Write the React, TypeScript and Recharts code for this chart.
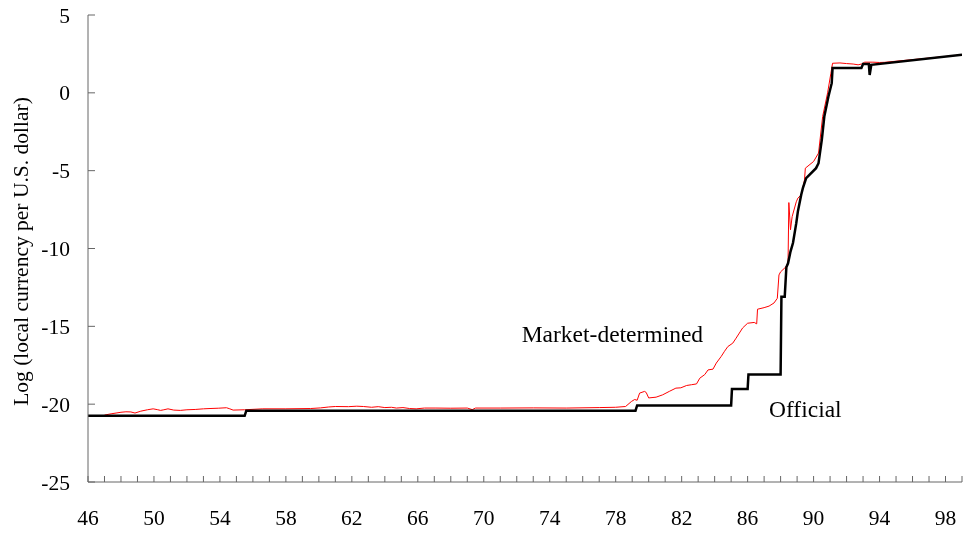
import React from 'react';
import { LineChart, Line, XAxis, YAxis, ReferenceDot } from 'recharts';

// Official exchange rate (log local currency per U.S. dollar)
const officialYears = [
  46.0, 55.5, 55.6, 79.2, 79.3, 85.0, 85.05, 86.0, 86.05, 88.0, 88.05, 88.25,
  88.35, 88.45, 88.6, 88.75, 88.95, 89.05, 89.25, 89.35, 89.55, 90.15, 90.3,
  90.5, 90.65, 90.9, 91.1, 91.15, 92.9, 93.0, 93.35, 93.4, 93.5, 99.0,
];
const officialValues = [
  -20.75, -20.75, -20.42, -20.42, -20.08, -20.08, -19.03, -19.03, -18.1, -18.1,
  -13.1, -13.1, -11.2, -10.95, -10.2, -9.65, -8.37, -7.6, -6.55, -6.12, -5.48,
  -4.84, -4.52, -3.0, -1.52, -0.24, 0.62, 1.59, 1.59, 1.85, 1.85, 1.15, 1.8, 2.44,
];

// Market-determined exchange rate
const marketYears = [
  47.0, 47.4, 47.7, 48.0, 48.3, 48.6, 48.85, 49.2, 49.6, 49.95, 50.2, 50.4, 50.6,
  50.85, 51.2, 51.6, 52.0, 52.5, 53.0, 53.4, 53.9, 54.4, 54.6, 54.8, 55.5, 56.6,
  58.0, 59.5, 60.1, 60.6, 61.0, 61.8, 62.3, 62.7, 63.2, 63.6, 64.0, 64.4, 64.7,
  65.1, 65.5, 65.9, 66.4, 67.1, 68.0, 69.0, 69.3, 69.5, 71.0, 73.0, 75.0, 77.0,
  78.0, 78.6, 78.95, 79.15, 79.3, 79.45, 79.75, 79.85, 80.0, 80.45, 80.85, 81.25,
  81.65, 81.95, 82.3, 82.6, 82.9, 83.1, 83.4, 83.6, 83.9, 84.1, 84.4, 84.6, 84.8,
  85.1, 85.3, 85.5, 85.7, 86.0, 86.4, 86.55, 86.6, 87.0, 87.3, 87.6, 87.8, 87.9,
  88.0, 88.3, 88.45, 88.5, 88.6, 88.7, 88.95, 89.05, 89.25, 89.3, 89.45, 89.5,
  90.0, 90.3, 90.55, 90.85, 91.05, 91.15, 91.6, 92.0, 92.4, 92.7, 92.9, 93.1,
  93.6, 94.0, 94.3, 99.0,
];
const marketValues = [
  -20.7, -20.62, -20.57, -20.52, -20.49, -20.5, -20.57, -20.45, -20.36, -20.3,
  -20.35, -20.4, -20.36, -20.3, -20.38, -20.4, -20.36, -20.34, -20.3, -20.28,
  -20.26, -20.23, -20.3, -20.38, -20.36, -20.3, -20.3, -20.28, -20.24, -20.18,
  -20.15, -20.16, -20.13, -20.15, -20.2, -20.16, -20.22, -20.2, -20.25, -20.22,
  -20.28, -20.3, -20.25, -20.25, -20.26, -20.25, -20.35, -20.25, -20.25, -20.24,
  -20.25, -20.22, -20.2, -20.15, -19.83, -19.7, -19.75, -19.29, -19.18, -19.25,
  -19.6, -19.55, -19.4, -19.18, -18.97, -18.95, -18.8, -18.75, -18.7, -18.33,
  -18.1, -17.8, -17.75, -17.36, -16.93, -16.6, -16.3, -16.08, -15.76, -15.43,
  -15.1, -14.8, -14.75, -14.84, -13.9, -13.8, -13.7, -13.5, -13.2, -11.7, -11.5,
  -11.2, -10.95, -7.05, -8.8, -7.95, -7.0, -6.76, -6.55, -6.34, -5.59, -4.84,
  -4.41, -3.87, -1.52, 0.0, 1.26, 1.9, 1.92, 1.88, 1.85, 1.8, 1.85, 1.97, 1.97,
  1.95, 1.96, 2.44,
];

const yearTicks = [
  46, 47, 48, 49, 50, 51, 52, 53, 54, 55, 56, 57, 58, 59, 60, 61, 62, 63, 64, 65,
  66, 67, 68, 69, 70, 71, 72, 73, 74, 75, 76, 77, 78, 79, 80, 81, 82, 83, 84, 85,
  86, 87, 88, 89, 90, 91, 92, 93, 94, 95, 96, 97, 98, 99,
];
const labeledYears = [46, 50, 54, 58, 62, 66, 70, 74, 78, 82, 86, 90, 94, 98];
const valueTicks = [-25, -20, -15, -10, -5, 0, 5];

const yAxisTitle = 'Log (local currency per U.S. dollar)';
const marketLabel = 'Market-determined';
const officialLabel = 'Official';

const officialData = officialYears.map((year, i) => ({ year, official: officialValues[i] }));
const marketData = marketYears.map((year, i) => ({ year, market: marketValues[i] }));

const FONT = '"Liberation Serif", "Times New Roman", serif';

export default function App() {
  return (
    <div style={{ position: 'fixed', left: 0, top: 0 }}>
      <LineChart width={964} height={533} margin={{ top: 15, right: 2, bottom: 0, left: 0 }}>
        <XAxis
          type="number"
          dataKey="year"
          domain={[46, 99]}
          ticks={yearTicks}
          interval={0}
          allowDataOverflow
          height={51}
          tickSize={-6}
          tickMargin={34}
          stroke="#666"
          tickFormatter={(v: number) => (labeledYears.includes(v) ? String(v) : '')}
          tick={{ fill: '#000', fontSize: 21.5, fontFamily: FONT }}
        />
        <YAxis
          type="number"
          domain={[-25, 5]}
          ticks={valueTicks}
          interval={0}
          allowDataOverflow
          width={88}
          tickSize={-7}
          tickMargin={25}
          stroke="#666"
          tick={{ fill: '#000', fontSize: 21.5, fontFamily: FONT }}
          label={{
            value: yAxisTitle,
            angle: -90,
            position: 'center',
            dx: -24,
            dy: 3,
            fill: '#000',
            fontSize: 21.5,
            fontFamily: FONT,
          }}
        />
        <Line
          data={marketData}
          dataKey="market"
          type="linear"
          stroke="#ff0000"
          strokeWidth={1}
          dot={false}
          activeDot={false}
          isAnimationActive={false}
        />
        <Line
          data={officialData}
          dataKey="official"
          type="linear"
          stroke="#000000"
          strokeWidth={2.5}
          dot={false}
          activeDot={false}
          isAnimationActive={false}
        />
        <ReferenceDot
          x={77.8}
          y={-15.5}
          r={1}
          fill="none"
          stroke="none"
          label={{ value: marketLabel, position: 'center', fill: '#000', fontSize: 23.5, fontFamily: FONT }}
        />
        <ReferenceDot
          x={89.5}
          y={-20.3}
          r={1}
          fill="none"
          stroke="none"
          label={{ value: officialLabel, position: 'center', fill: '#000', fontSize: 23.5, fontFamily: FONT }}
        />
      </LineChart>
    </div>
  );
}
